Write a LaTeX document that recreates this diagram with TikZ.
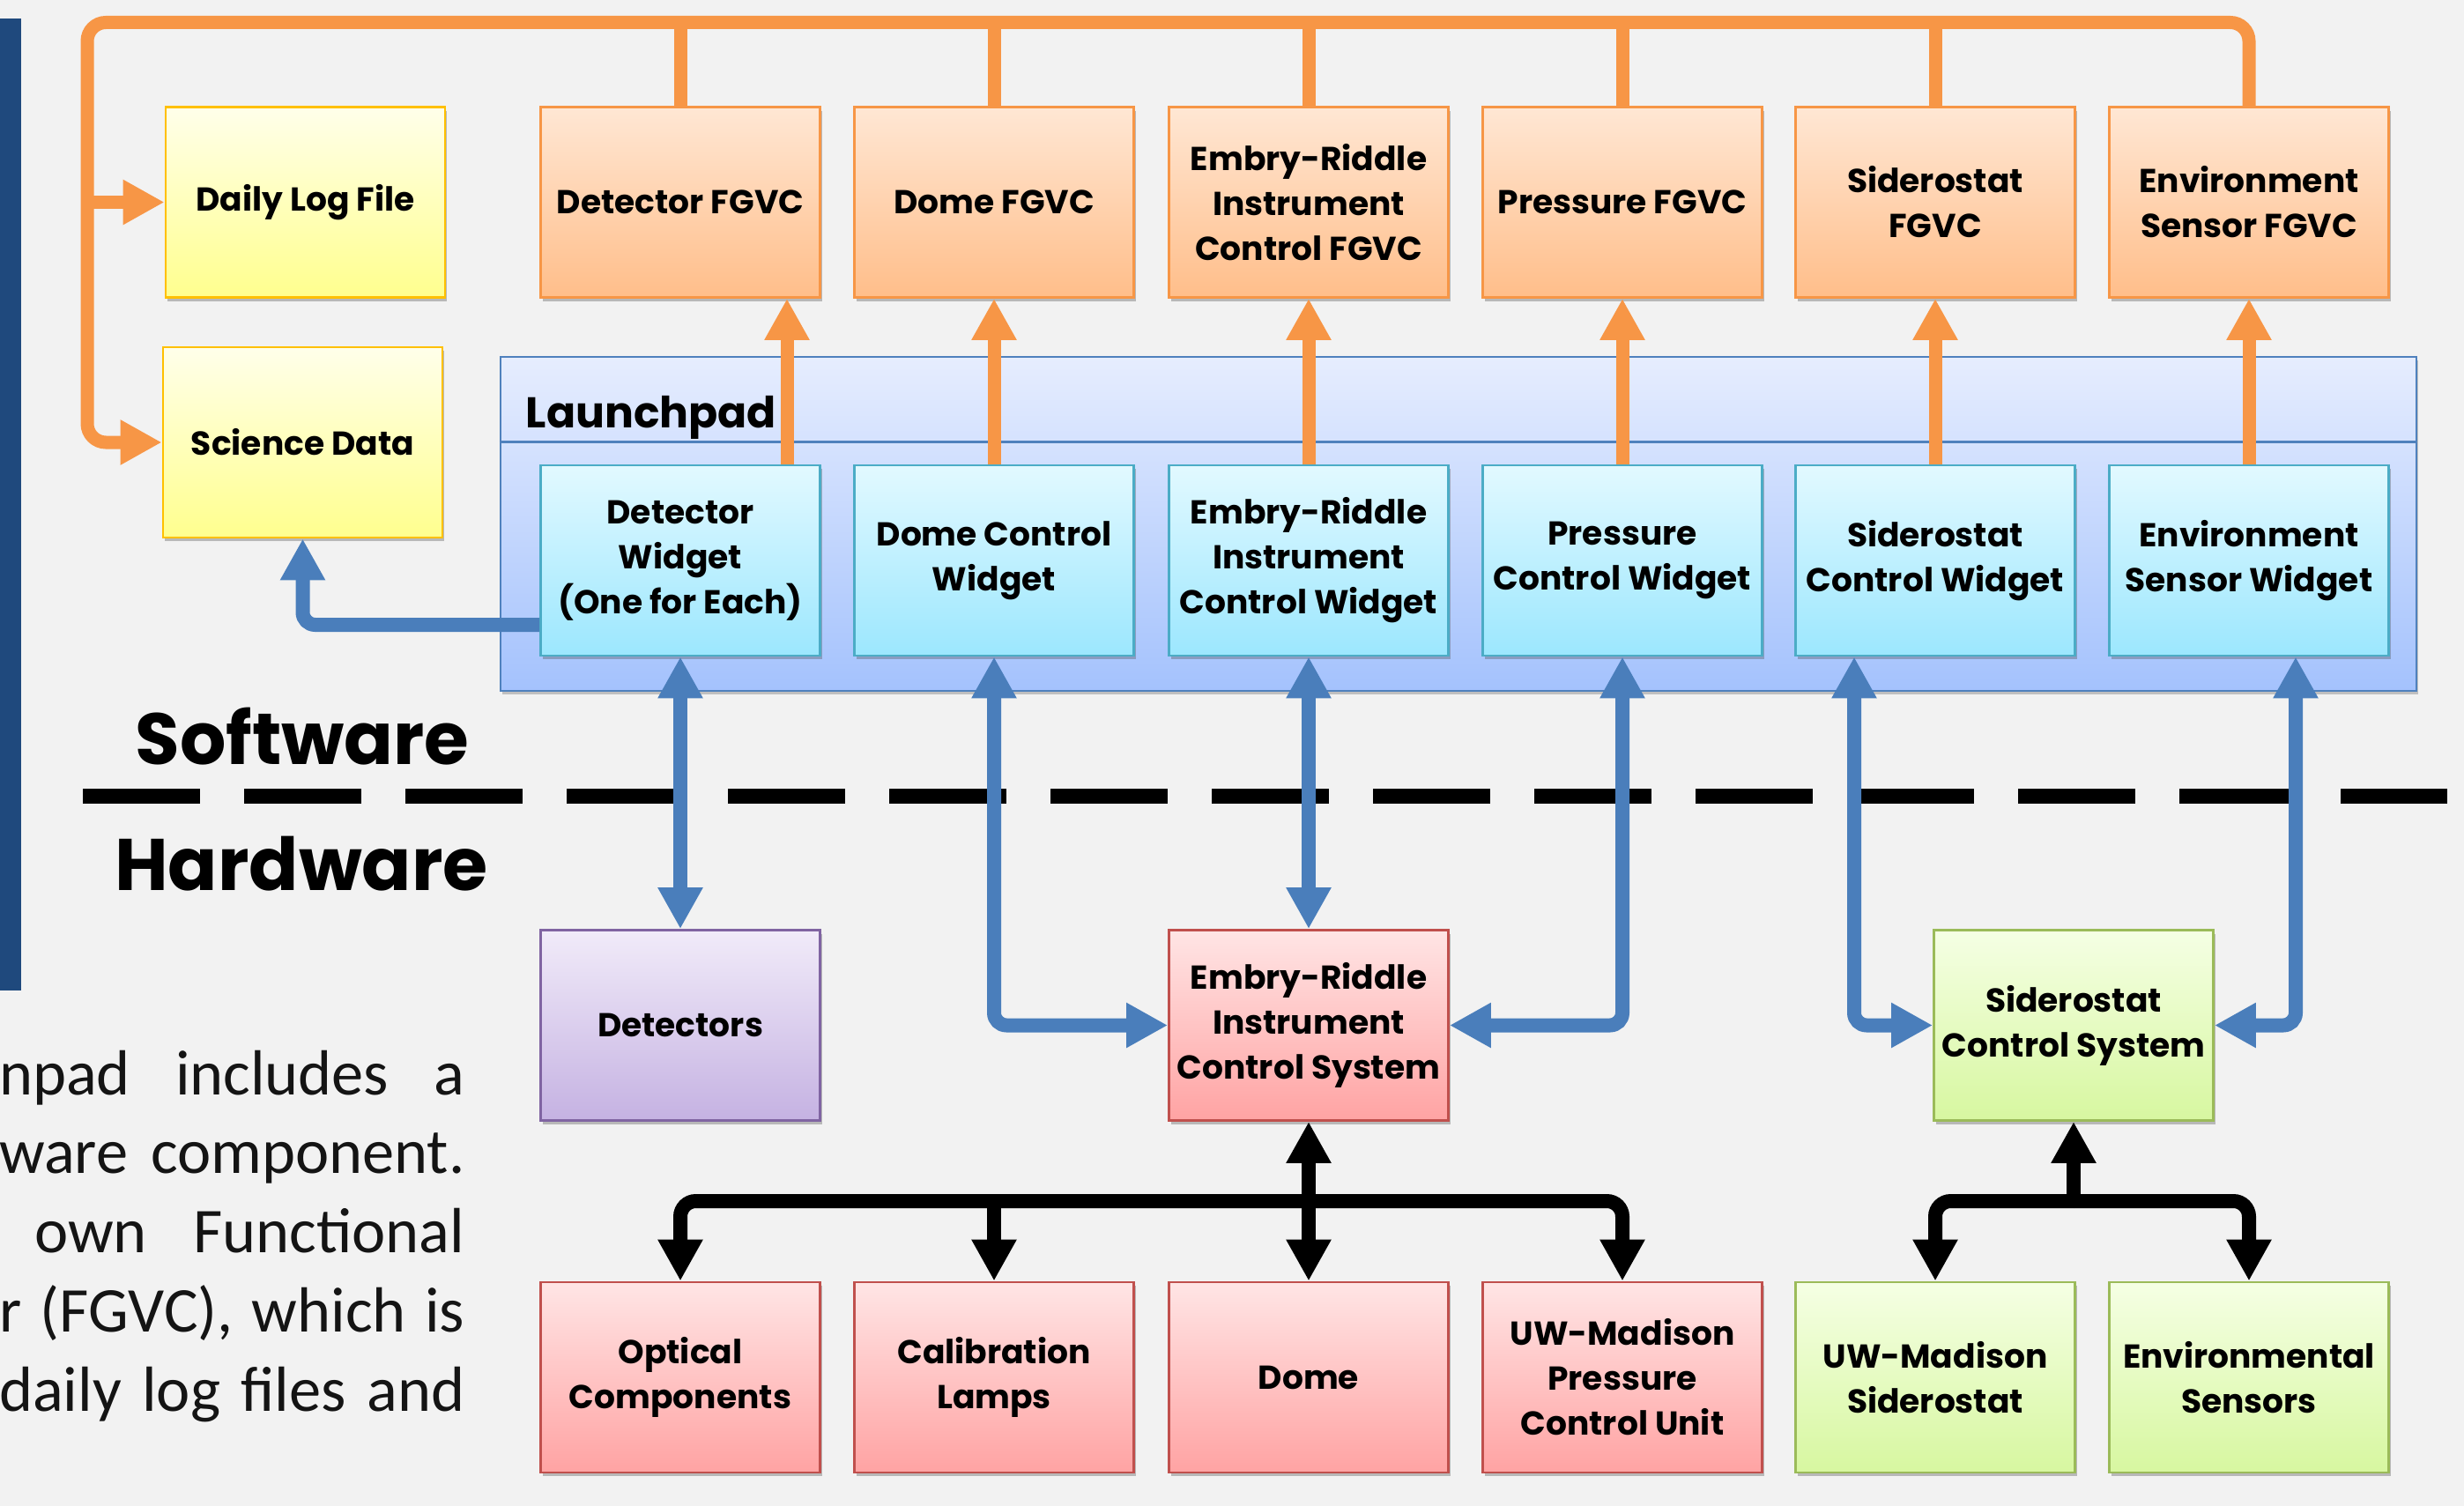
\documentclass[tikz,border=0pt]{standalone}
\usepackage{fontspec}
\setmainfont{Poppins}
\newfontfamily\parafont{Carlito}
\usetikzlibrary{arrows.meta, shadows}

\definecolor{pagebg}{HTML}{F2F2F2}
\definecolor{sidebar}{HTML}{1F497D}
\definecolor{orng}{HTML}{F79646}
\definecolor{blu}{HTML}{4A7EBB}
\definecolor{logtop}{HTML}{FFFFEA}
\definecolor{logbot}{HTML}{FFFF8E}
\definecolor{logline}{HTML}{FFC000}
\definecolor{fgvctop}{HTML}{FFE7D4}
\definecolor{fgvcbot}{HTML}{FFBE8A}
\definecolor{wdgtop}{HTML}{E2F9FF}
\definecolor{wdgbot}{HTML}{9CE7FE}
\definecolor{wdgline}{HTML}{4BACC6}
\definecolor{padtop}{HTML}{E6EDFE}
\definecolor{padbot}{HTML}{A4C2FD}
\definecolor{padline}{HTML}{4F81BD}
\definecolor{dettop}{HTML}{F1EBF9}
\definecolor{detbot}{HTML}{C5B2E2}
\definecolor{detline}{HTML}{8064A2}
\definecolor{hwtop}{HTML}{FFE5E5}
\definecolor{hwbot}{HTML}{FFA3A3}
\definecolor{hwline}{HTML}{C0504D}
\definecolor{sidtop}{HTML}{F5FFE4}
\definecolor{sidbot}{HTML}{D7F7A0}
\definecolor{sidline}{HTML}{9BBB59}

\tikzset{
    box/.style={draw, line width=0.8pt, minimum width=3.17cm, minimum height=2.16cm, inner sep=0pt, align=center,
        font=\fontsize{10.7}{14.5}\selectfont\bfseries,
        drop shadow={shadow xshift=0.6pt, shadow yshift=-1.2pt, opacity=0.35, fill=black!70}}, % 通用方框
    logbox/.style={box, draw=logline, top color=logtop, bottom color=logbot}, % 日志与数据
    fgvcbox/.style={box, draw=orng, top color=fgvctop, bottom color=fgvcbot}, % FGVC
    wdgbox/.style={box, draw=wdgline, top color=wdgtop, bottom color=wdgbot}, % 控件
    detbox/.style={box, draw=detline, top color=dettop, bottom color=detbot}, % 探测器
    hwbox/.style={box, draw=hwline, top color=hwtop, bottom color=hwbot}, % 仪器硬件
    sidbox/.style={box, draw=sidline, top color=sidtop, bottom color=sidbot}, % 定星镜硬件
    padbox/.style={draw=padline, line width=0.8pt, top color=padtop, bottom color=padbot, inner sep=0pt,
        drop shadow={shadow xshift=0.6pt, shadow yshift=-1.2pt, opacity=0.3, fill=black!70}},
    para/.style={font=\parafont\fontsize{20.6}{24}\selectfont, inner sep=0pt, text=black!92},
    oline/.style={draw=orng, line width=1.5mm},
    bline/.style={draw=blu, line width=1.6mm},
    kline/.style={draw=black, line width=1.6mm},
    >={Triangle[width=4.8mm, length=4.7mm]}
}

\begin{document}
\begin{tikzpicture}
    \useasboundingbox (0,0) rectangle (27.96,-17.09);
    \fill[pagebg] (0,0) rectangle (27.96,-17.09);
    \fill[sidebar] (0,-0.21) rectangle (0.24,-11.24);

    \node[padbox, minimum width=21.74cm, minimum height=3.79cm] (lpad) at (16.55,-5.945) {};
    \draw[padline, line width=0.8pt] ([yshift=-0.98cm]lpad.north west) -- ([yshift=-0.98cm]lpad.north east);
    \node[font=\fontsize{13.9}{17}\selectfont\bfseries, anchor=base west, inner sep=0pt] (padlabel) at (5.96,-4.85) {Launchpad};

    \node[logbox] (daily) at (3.465,-2.295) {Daily Log File};
    \node[logbox] (science) at (3.435,-5.02) {Science Data};

    \foreach \i/\x/\ftxt/\wtxt in {
        1/7.72/{Detector FGVC}/{Detector\\Widget\\(One for Each)},
        2/11.28/{Dome FGVC}/{Dome Control\\Widget},
        3/14.85/{Embry-Riddle\\Instrument\\Control FGVC}/{Embry-Riddle\\Instrument\\Control Widget},
        4/18.41/{Pressure FGVC}/{Pressure\\Control Widget},
        5/21.96/{Siderostat\\FGVC}/{Siderostat\\Control Widget},
        6/25.52/{Environment\\Sensor FGVC}/{Environment\\Sensor Widget}} {
        \node[fgvcbox] (f\i) at (\x,-2.295) {\ftxt};
        \node[wdgbox] (w\i) at (\x,-6.36) {\wtxt};
    }

    \node[detbox] (det) at (7.72,-11.635) {Detectors};
    \node[hwbox] (ercs) at (14.85,-11.635) {Embry-Riddle\\Instrument\\Control System};
    \node[sidbox] (scs) at (23.53,-11.635) {Siderostat\\Control System};
    \node[hwbox] (opt) at (7.72,-15.63) {Optical\\Components};
    \node[hwbox] (cal) at (11.28,-15.63) {Calibration\\Lamps};
    \node[hwbox] (dome) at (14.85,-15.63) {Dome};
    \node[hwbox] (puc) at (18.41,-15.63) {UW-Madison\\Pressure\\Control Unit};
    \node[sidbox] (uws) at (21.96,-15.63) {UW-Madison\\Siderostat};
    \node[sidbox] (envs) at (25.52,-15.63) {Environmental\\Sensors};

    % 软件 / 硬件分界
    \draw[line width=1.7mm, dash pattern=on 1.33cm off 0.5cm] (0.94,-9.03) -- (27.77,-9.03);
    \node[font=\fontsize{23.4}{28}\selectfont\bfseries, anchor=base, inner sep=0pt] (sw) at (3.43,-8.67) {Software};
    \node[font=\fontsize{23.6}{28}\selectfont\bfseries, anchor=base, inner sep=0pt] (hw) at (3.42,-10.10) {Hardware};

    \node[para, anchor=base east] (txt1) at (5.28,-12.42) {\makebox[5.28cm][s]{npad includes a}};
    \node[para, anchor=base east] (txt2) at (5.28,-13.31) {\makebox[5.28cm][s]{ware component.}};
    \node[para, anchor=base east] (txt3) at (5.28,-14.21) {\makebox[4.88cm][s]{own Functional}};
    \node[para, anchor=base east] (txt4) at (5.28,-15.11) {\makebox[5.28cm][s]{r (FGVC), which is}};
    \node[para, anchor=base east] (txt5) at (5.28,-16.01) {\makebox[5.28cm][s]{daily log files and}};

    % 日志总线
    \coordinate (busL) at (0.99,-0.255);
    \draw[oline, ->, rounded corners=6pt] (f6.north) |- (busL) |- (science.west);
    \draw[oline, ->] (daily.west -| busL) -- (daily.west);
    \foreach \i in {1,...,5} {\draw[oline] (f\i.north |- busL) -- (f\i.north);}
    \draw[oline, ->] ([xshift=1.21cm]w1.north) -- ([xshift=1.21cm]f1.south);
    \foreach \i in {2,...,6} {\draw[oline, ->] (w\i.north) -- (f\i.south);}

    % 控件与硬件
    \draw[bline, ->, rounded corners=4pt] ([yshift=-0.73cm]w1.west) -| (science.south);
    \draw[bline, <->] (w1.south) -- (det.north);
    \draw[bline, <->, rounded corners=4pt] (w2.south) |- (ercs.west);
    \draw[bline, <->] (w3.south) -- (ercs.north);
    \draw[bline, <->, rounded corners=4pt] (w4.south) |- (ercs.east);
    \draw[bline, <->, rounded corners=4pt] ([xshift=-0.92cm]w5.south) |- (scs.west);
    \draw[bline, <->, rounded corners=4pt] ([xshift=0.53cm]w6.south) |- (scs.east);

    \coordinate (kbus) at (0,-13.63);
    \draw[kline, <->] (ercs.south) -- (dome.north);
    \draw[kline, ->, rounded corners=5pt] (ercs.south |- kbus) -| (opt.north);
    \draw[kline, ->, rounded corners=5pt] (ercs.south |- kbus) -| (puc.north);
    \draw[kline, ->] (cal.north |- kbus) -- (cal.north);
    \draw[kline, ->] (scs.south |- kbus) -- (scs.south);
    \draw[kline, ->, rounded corners=5pt] (scs.south |- kbus) -| (uws.north);
    \draw[kline, ->, rounded corners=5pt] (scs.south |- kbus) -| (envs.north);
\end{tikzpicture}
\end{document}
